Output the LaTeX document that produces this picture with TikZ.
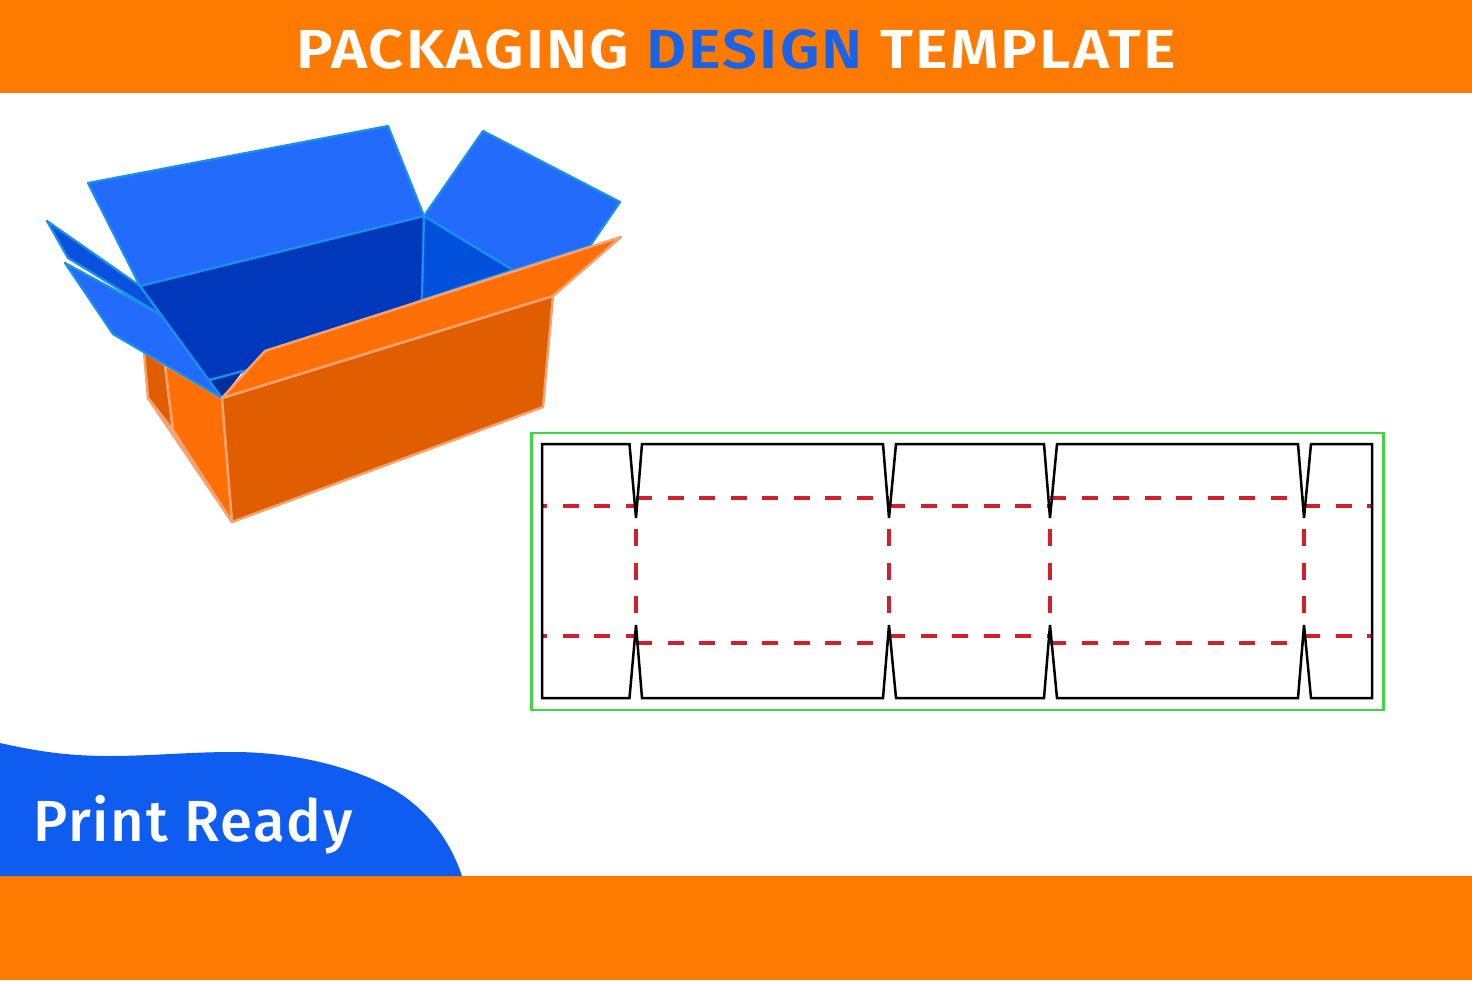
\documentclass[tikz,border=0pt]{standalone}
\usepackage{fontspec}
\newfontfamily\titlefont{Fira Sans SemiBold}[LetterSpace=4,FakeStretch=1.12]
\newfontfamily\readyfont{Fira Sans Medium}[LetterSpace=3]
\definecolor{band}{HTML}{FF7A00}
\definecolor{blob}{HTML}{0F5CF0}
\definecolor{designblue}{HTML}{1B63E6}
\definecolor{flapblue}{HTML}{226BFB}
\definecolor{flapdark}{HTML}{0A50DF}
\definecolor{wallmain}{HTML}{0038BC}
\definecolor{wallside}{HTML}{0050DC}
\definecolor{wallfloor}{HTML}{002E9E}
\definecolor{blueedge}{HTML}{1A90E8}
\definecolor{orglight}{HTML}{FF6F08}
\definecolor{orgdark}{HTML}{E05D00}
\definecolor{orgedge}{HTML}{F6A26E}
\definecolor{guide}{HTML}{3FD63F}
\definecolor{crease}{HTML}{D0202C}
\tikzset{
  inblue/.style={draw=blueedge,line width=2.2pt,line join=round},
  inorange/.style={draw=orgedge,line width=2.5pt,line join=round},
  cutline/.style={draw=black,line width=2.5pt,line join=miter},
  creaseline/.style={draw=crease,line width=3.2pt,dash pattern=on 16pt off 15.5pt},
}
\begin{document}
\begin{tikzpicture}[x=1pt,y=-1pt]
\useasboundingbox (0,0) rectangle (1472,980);
\fill[white] (0,0) rectangle (1472,980);
% bands
\fill[band] (0,0) rectangle (1472,93);
\fill[band] (0,876) rectangle (1472,980);
\fill[blob] (0,743) .. controls (40,752) and (70,756) .. (110,756)
  .. controls (150,756) and (190,752) .. (233,752)
  .. controls (290,752) and (345,765) .. (385,785)
  .. controls (425,805) and (450,840) .. (462,876) -- (0,876) -- cycle;
\node[anchor=base,text=white,font=\titlefont\fontsize{55}{55}\selectfont,inner sep=0pt] (title) at (736,68)
  {PACKAGING \textcolor{designblue}{DESIGN} TEMPLATE};
\node[anchor=base west,text=white,font=\readyfont\fontsize{58}{58}\selectfont,inner sep=0pt] (ready) at (33,841) {Print Ready};
% box outside left
\filldraw[fill=orgdark,inorange] (144,352) -- (148,398) -- (173,430) -- (165,365) -- cycle;
\filldraw[fill=orglight,inorange] (165,365) -- (222,398) -- (232,522) -- (173,430) -- cycle;
\draw[inorange] (148,398) -- (232,522);
% front
\filldraw[fill=orgdark,inorange] (222,398) -- (553,296) -- (543,407) -- (232,522) -- cycle;
% inner walls
\filldraw[fill=wallmain,inblue] (140,286) -- (424,216) -- (422,300) -- (242,372) -- (208.5,380) -- cycle;
\fill[wallfloor] (208.5,380) -- (242,372) -- (222,398) -- cycle;
\draw[inblue] (210,380) -- (243,371);
\filldraw[fill=wallside,inblue] (424,216) -- (513,270) -- (422,300) -- cycle;
% top flaps
\filldraw[fill=flapblue,inblue] (88,183) -- (388,126) -- (424,216) -- (140,286) -- cycle;
\filldraw[fill=flapblue,inblue] (483,131) -- (620,202) -- (590,246) -- (513,270) -- (424,216) -- cycle;
\filldraw[fill=flapdark,inblue] (47,221) -- (140,286) -- (161,315) -- (68,258) -- cycle;
\filldraw[fill=flapblue,inblue] (65,263) -- (161,315) -- (222,398) -- (113,334) -- cycle;
% front flap
\filldraw[fill=orglight,inorange] (222,398) -- (265,351) -- (621,237) -- (553,296) -- cycle;
% dieline
\draw[guide,line width=2.4pt] (531.5,433) rectangle (1383.5,710);
\draw[creaseline,dash phase=11pt] (542,506) -- (636,506);
\draw[creaseline] (636,498) -- (889,498);
\draw[creaseline] (889,506) -- (1050,506);
\draw[creaseline] (1050,498) -- (1304,498);
\draw[creaseline] (1304,506) -- (1372,506);
\draw[creaseline,dash phase=11pt] (542,636) -- (636,636);
\draw[creaseline] (636,643) -- (889,643);
\draw[creaseline] (889,636) -- (1050,636);
\draw[creaseline] (1050,643) -- (1304,643);
\draw[creaseline] (1304,636) -- (1372,636);
\foreach \cx in {636,889,1050,1304}
  \draw[creaseline,dash pattern=on 17pt off 16.5pt] (\cx,529) -- (\cx,614);
\draw[cutline] (542,444) -- (629.5,444) -- (636,518) -- (642,444) -- (883,444) -- (889,518) -- (896,444)
  -- (1044,444) -- (1050,518) -- (1057,444) -- (1298,444) -- (1304,518) -- (1311,444) -- (1372,444)
  -- (1372,698) -- (1311,698) -- (1304,625) -- (1298,698) -- (1057,698) -- (1050,625) -- (1044,698)
  -- (896,698) -- (889,625) -- (883,698) -- (642,698) -- (636,625) -- (629.5,698) -- (542,698) -- cycle;
\end{tikzpicture}
\end{document}
